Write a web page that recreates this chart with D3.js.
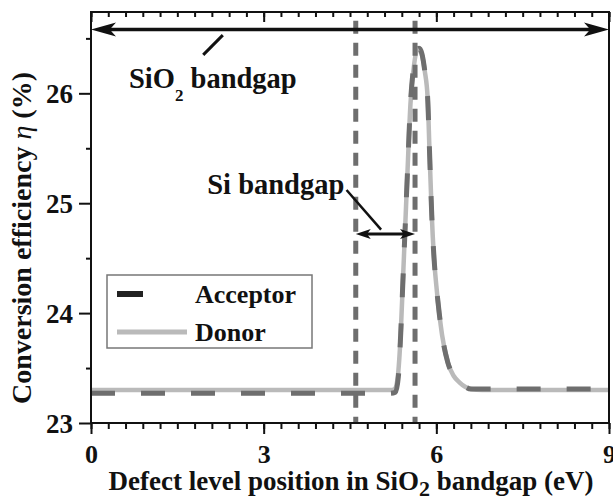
<!DOCTYPE html>
<html>
<head>
<meta charset="utf-8">
<script src="https://cdn.jsdelivr.net/npm/d3@7"></script>
<style>
  html, body { margin: 0; padding: 0; background: #fff; }
  svg { display: block; }
  text { font-family: "Liberation Serif", "Times New Roman", serif; font-weight: bold; fill: #111; }
</style>
</head>
<body>
<svg id="chart" width="613" height="500"></svg>
<script>
// ---------------- data ----------------
const donorX = [0, 1, 2, 3, 4, 5, 5.2, 5.28, 5.33, 5.38, 5.42, 5.46, 5.5, 5.55, 5.6, 5.65, 5.7, 5.75, 5.8, 5.85, 5.88, 5.92, 5.96, 6.0, 6.05, 6.1, 6.2, 6.3, 6.4, 6.5, 6.6, 6.8, 7, 8, 9];
const donorY = [23.3, 23.3, 23.3, 23.3, 23.3, 23.3, 23.3, 23.31, 23.42, 23.8, 24.3, 24.8, 25.3, 25.9, 26.2, 26.37, 26.41, 26.35, 26.2, 25.95, 25.5, 24.9, 24.5, 24.25, 24.0, 23.8, 23.55, 23.43, 23.37, 23.33, 23.31, 23.3, 23.3, 23.3, 23.3];
const acceptorX = [0, 1, 2, 3, 4, 5, 5.2, 5.29, 5.34, 5.38, 5.42, 5.46, 5.5, 5.55, 5.6, 5.65, 5.7, 5.75, 5.8, 5.85, 5.88, 5.92, 5.96, 6.0, 6.05, 6.1, 6.2, 6.3, 6.4, 6.5, 6.6, 6.8, 7, 8, 9];
const acceptorY = [23.27, 23.27, 23.27, 23.27, 23.27, 23.27, 23.27, 23.28, 23.42, 23.8, 24.3, 24.8, 25.3, 25.9, 26.22, 26.38, 26.41, 26.36, 26.2, 25.95, 25.5, 24.9, 24.5, 24.25, 24.0, 23.8, 23.55, 23.43, 23.37, 23.33, 23.31, 23.31, 23.31, 23.31, 23.31];
const seriesNames = ["Acceptor", "Donor"];
const xTickValues = [0, 3, 6, 9];
const yTickValues = [23, 24, 25, 26];
const siBandEdges = [4.6, 5.63];        // vertical dashed lines (eV)
const sio2Arrow = { x0: 0, x1: 9, y: 26.58 };
const siArrow = { x0: 4.6, x1: 5.63, y: 24.72 };
const sio2Pointer = [[2.29, 26.53], [1.95, 26.35]];
const siPointer = [[4.44, 25.12], [5.04, 24.76]];
const sio2Label = { x: 0.66, y: 26.05 };
const siLabel = { x: 2.02, y: 25.08 };

// ---------------- layout ----------------
const W = 613, H = 500;
const margin = { left: 91, right: 4, top: 12, bottom: 77 };
const svg = d3.select("#chart");
const x = d3.scaleLinear().domain([0, 9]).range([margin.left, W - margin.right]);
const y = d3.scaleLinear().domain([23, 26.74]).range([H - margin.bottom, margin.top]);
const x0 = x.range()[0], x1 = x.range()[1], yb = y.range()[0], yt = y.range()[1];

const grey = "#6e6e6e", light = "#bababa";

// ---------------- curves ----------------
const line = d3.line().x(d => x(d[0])).y(d => y(d[1])).curve(d3.curveMonotoneX);
const donor = donorX.map((v, i) => [v, donorY[i]]);
const acceptor = acceptorX.map((v, i) => [v, acceptorY[i]]);

svg.append("path").attr("d", line(donor)).attr("fill", "none")
  .attr("stroke", light).attr("stroke-width", 4.5);
svg.append("path").attr("d", line(acceptor)).attr("fill", "none")
  .attr("stroke", grey).attr("stroke-width", 5).attr("stroke-dasharray", "24,26");

// vertical Si band edges
svg.selectAll("line.edge").data(siBandEdges).join("line").attr("class", "edge")
  .attr("x1", d => x(d)).attr("x2", d => x(d))
  .attr("y1", y(26.66)).attr("y2", yb)
  .attr("stroke", grey).attr("stroke-width", 5).attr("stroke-dasharray", "13,9");

// ---------------- axes ----------------
function styleAxis(g) {
  g.select(".domain").remove();
  g.selectAll("line").attr("stroke", "#111").attr("stroke-width", 2);
}
const bottomMinor = d3.range(0, 9.001, 0.3);
svg.append("g").attr("transform", `translate(0,${yb})`)
  .call(d3.axisBottom(x).tickValues(bottomMinor).tickSize(6).tickFormat("")).call(styleAxis);
svg.append("g").attr("transform", `translate(0,${yb})`)
  .call(d3.axisBottom(x).tickValues(xTickValues).tickSize(11).tickFormat(d3.format("d")))
  .call(styleAxis)
  .call(g => g.selectAll("text").attr("y", 40).attr("dy", 0)
    .style("font-size", "26px").attr("fill", "#111"));
svg.append("g").attr("transform", `translate(0,${yt})`)
  .call(d3.axisTop(x).tickValues(bottomMinor).tickSize(-5).tickFormat("")).call(styleAxis);
svg.append("g").attr("transform", `translate(0,${yt})`)
  .call(d3.axisTop(x).tickValues(xTickValues).tickSize(-10).tickFormat("")).call(styleAxis);

svg.append("g").attr("transform", `translate(${x0},0)`)
  .call(d3.axisLeft(y).tickValues([23.5, 24.5, 25.5, 26.5]).tickSize(5).tickFormat("")).call(styleAxis);
svg.append("g").attr("transform", `translate(${x0},0)`)
  .call(d3.axisLeft(y).tickValues(yTickValues).tickSize(12).tickFormat(d3.format("d")))
  .call(styleAxis)
  .call(g => g.selectAll("text").attr("x", -18).attr("dy", "0.34em")
    .style("font-size", "27px").attr("fill", "#111"));

// frame
svg.append("rect").attr("x", x0).attr("y", yt).attr("width", x1 - x0).attr("height", yb - yt)
  .attr("fill", "none").attr("stroke", "#111").attr("stroke-width", 2);

// axis titles
const xt = svg.append("text").attr("x", (x0 + x1) / 2 + 1).attr("y", 490)
  .attr("text-anchor", "middle").style("font-size", "27px");
xt.append("tspan").text("Defect level position in SiO");
xt.append("tspan").text("2").attr("dy", 6).style("font-size", "22px");
xt.append("tspan").text(" bandgap (eV)").attr("dy", -6);

const yTitle = svg.append("text").attr("transform", `translate(31,238) rotate(-90)`)
  .attr("text-anchor", "middle").style("font-size", "28px");
yTitle.append("tspan").text("Conversion efficiency ");
yTitle.append("tspan").text("η").style("font-style", "italic").style("font-weight", "normal");
yTitle.append("tspan").text(" (%)");

// ---------------- arrows ----------------
function dblArrow(a, len, half, sw) {
  const xa = x(a.x0), xb = x(a.x1), yy = y(a.y);
  svg.append("line").attr("x1", xa + len * 0.6).attr("x2", xb - len * 0.6)
    .attr("y1", yy).attr("y2", yy).attr("stroke", "#111").attr("stroke-width", sw);
  const head = (tip, dir) => `M${tip},${yy} L${tip + dir * len},${yy - half} L${tip + dir * len * 0.75},${yy} L${tip + dir * len},${yy + half} Z`;
  svg.append("path").attr("d", head(xa, 1)).attr("fill", "#111");
  svg.append("path").attr("d", head(xb, -1)).attr("fill", "#111");
}
dblArrow(sio2Arrow, 25, 7, 3.5);
dblArrow(siArrow, 15, 5, 3);

const pline = d3.line().x(d => x(d[0])).y(d => y(d[1]));
svg.append("path").attr("d", pline(sio2Pointer)).attr("stroke", "#111").attr("stroke-width", 3).attr("fill", "none");
svg.append("path").attr("d", pline(siPointer)).attr("stroke", "#111").attr("stroke-width", 2.5).attr("fill", "none");

// annotation labels
const t1 = svg.append("text").attr("x", x(sio2Label.x)).attr("y", y(sio2Label.y)).style("font-size", "28.5px");
t1.append("tspan").text("SiO");
t1.append("tspan").text("2").attr("dy", 13).style("font-size", "17px");
t1.append("tspan").text(" bandgap").attr("dy", -13);

svg.append("text").attr("x", x(siLabel.x)).attr("y", y(siLabel.y)).style("font-size", "28.5px").text("Si bandgap");

// ---------------- legend ----------------
const lg = svg.append("g");
lg.append("rect").attr("x", 107).attr("y", 275).attr("width", 205).attr("height", 73)
  .attr("fill", "#fff").attr("stroke", "#777").attr("stroke-width", 1.5);
lg.append("line").attr("x1", 117).attr("x2", 143).attr("y1", 294).attr("y2", 294)
  .attr("stroke", "#222").attr("stroke-width", 6);
lg.append("line").attr("x1", 117).attr("x2", 187).attr("y1", 332).attr("y2", 332)
  .attr("stroke", light).attr("stroke-width", 5);
lg.append("text").attr("x", 195).attr("y", 303).style("font-size", "26px").text(seriesNames[0]);
lg.append("text").attr("x", 195).attr("y", 341).style("font-size", "26px").text(seriesNames[1]);
</script>
</body>
</html>
